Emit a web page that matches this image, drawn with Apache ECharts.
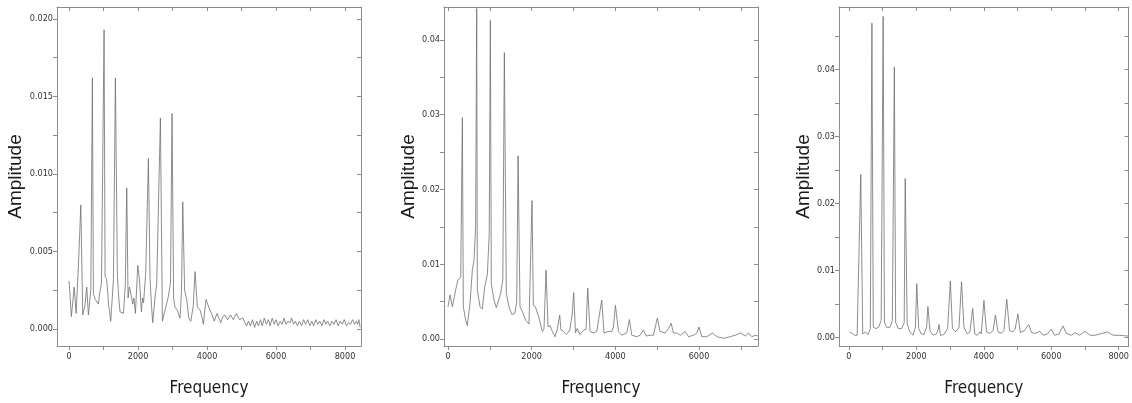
<!DOCTYPE html>
<html>
<head>
<meta charset="utf-8">
<script src="https://cdn.jsdelivr.net/npm/echarts@6/dist/echarts.min.js"></script>
<style>
  html, body { margin: 0; padding: 0; background: #fff; }
  #main { width: 1132px; height: 403px; }
</style>
</head>
<body>
<div id="main"></div>
<script>
// spectra: [frequency, amplitude]
const spec1 = [
  [0,0.0031],[67,0.0008],[148,0.0027],[204,0.0010],[270,0.0040],[340,0.0080],[397,0.0009],[460,0.0015],
  [513,0.0027],[560,0.0009],[630,0.0025],[676,0.0162],[705,0.0023],[760,0.0019],[802,0.0018],[850,0.0016],
  [880,0.0022],[940,0.0030],[1015,0.0193],[1044,0.0034],[1090,0.0032],[1150,0.0015],[1208,0.0005],[1286,0.0032],
  [1343,0.0162],[1401,0.0034],[1440,0.0020],[1479,0.0011],[1520,0.0012],[1576,0.0010],[1630,0.0028],[1672,0.0091],
  [1710,0.0020],[1750,0.0027],[1800,0.0022],[1846,0.0016],[1880,0.0020],[1924,0.0010],[1992,0.0041],[2040,0.0032],
  [2098,0.0011],[2130,0.0020],[2160,0.0017],[2222,0.0036],[2300,0.0110],[2348,0.0032],[2390,0.0015],[2425,0.0004],
  [2490,0.0020],[2541,0.0029],[2590,0.0030],[2648,0.0136],[2706,0.0005],[2780,0.0012],[2880,0.0021],[2940,0.0030],
  [2986,0.0139],[3030,0.0020],[3073,0.0014],[3140,0.0012],[3217,0.0007],[3260,0.0025],[3296,0.0082],[3350,0.0025],
  [3411,0.0019],[3470,0.0007],[3530,0.0005],[3600,0.0015],[3652,0.0037],[3720,0.0014],[3800,0.0012],[3850,0.0008],
  [3894,0.0003],[3971,0.0019],[4050,0.0014],[4130,0.0010],[4210,0.0005],[4290,0.0010],[4400,0.0004],[4460,0.0008],
  [4520,0.0009],[4600,0.0006],[4680,0.0009],[4760,0.0006],[4848,0.0010],[4940,0.0006],[5038,0.0007],
  [5100,0.0004],[5150,0.0002],[5200,0.0005],[5260,0.0002],[5320,0.0006],[5380,0.0001],[5440,0.0005],[5490,0.0002],
  [5550,0.0006],[5600,0.0002],[5660,0.0007],[5720,0.0003],[5780,0.0006],[5830,0.0002],[5890,0.0007],[5950,0.0003],
  [6000,0.0006],[6060,0.0002],[6120,0.0005],[6180,0.0003],[6230,0.0007],[6290,0.0003],[6350,0.0005],[6410,0.0004],
  [6450,0.0007],[6510,0.0003],[6560,0.0005],[6620,0.0002],[6680,0.0005],[6740,0.0002],[6800,0.0006],[6860,0.0003],
  [6920,0.0006],[6980,0.0002],[7040,0.0005],[7090,0.0002],[7150,0.0006],[7210,0.0003],[7270,0.0005],[7330,0.0002],
  [7390,0.0006],[7450,0.0003],[7500,0.0005],[7560,0.0002],[7620,0.0005],[7680,0.0003],[7740,0.0006],[7800,0.0002],
  [7860,0.0005],[7920,0.0003],[7980,0.0006],[8040,0.0002],[8100,0.0004],[8160,0.0003],[8220,0.0006],[8280,0.0003],
  [8330,0.0005],[8370,0.0003],[8400,0.0006],[8440,0.0001]
];

const spec2 = [
  [0,0.0043],[48,0.0059],[104,0.0043],[184,0.0066],[239,0.0079],[303,0.0083],[343,0.0296],[366,0.0043],
  [423,0.0025],[462,0.0018],[526,0.0048],[582,0.0092],[622,0.0106],[660,0.0150],[686,0.0442],[701,0.0066],
  [765,0.0043],[820,0.0040],[877,0.0070],[940,0.0086],[985,0.0140],[1012,0.0426],[1035,0.0074],[1100,0.0052],
  [1155,0.0042],[1200,0.0043],[1259,0.0061],[1310,0.0079],[1347,0.0383],[1394,0.0061],[1458,0.0043],[1522,0.0033],
  [1594,0.0034],[1642,0.0048],[1675,0.0245],[1721,0.0043],[1777,0.0037],[1857,0.0025],[1936,0.0020],[2008,0.0185],
  [2040,0.0045],[2088,0.0043],[2176,0.0028],[2255,0.0010],[2295,0.0014],[2344,0.0092],[2392,0.0016],[2440,0.0018],
  [2495,0.0010],[2557,0.0003],[2613,0.0013],[2670,0.0032],[2700,0.0012],[2768,0.0010],[2832,0.0006],[2912,0.0012],
  [2970,0.0034],[3005,0.0062],[3048,0.0008],[3088,0.0014],[3152,0.0006],[3248,0.0012],[3300,0.0013],[3340,0.0068],
  [3397,0.0010],[3476,0.0008],[3556,0.0010],[3596,0.0012],[3675,0.0052],[3731,0.0008],[3835,0.0010],[3915,0.0010],
  [3955,0.0016],[4002,0.0045],[4075,0.0010],[4154,0.0005],[4274,0.0008],[4337,0.0026],[4393,0.0005],[4513,0.0003],
  [4592,0.0005],[4672,0.0012],[4736,0.0004],[4832,0.0005],[4911,0.0005],[5005,0.0028],[5071,0.0010],[5191,0.0008],
  [5271,0.0014],[5335,0.0021],[5391,0.0008],[5471,0.0008],[5550,0.0005],[5670,0.0010],[5750,0.0003],[5869,0.0005],
  [5949,0.0008],[6000,0.0016],[6069,0.0003],[6189,0.0003],[6326,0.0008],[6428,0.0003],[6587,0.0001],[6746,0.0003],
  [6865,0.0005],[6995,0.0008],[7104,0.0004],[7184,0.0008],[7264,0.0003],[7343,0.0005],[7410,0.0004]
];

const spec3 = [
  [20,0.0008],[98,0.0006],[176,0.0003],[244,0.0003],[293,0.0004],[352,0.0243],[410,0.0005],[489,0.0008],
  [566,0.0004],[635,0.0013],[683,0.0469],[723,0.0015],[800,0.0013],[879,0.0015],[957,0.0025],[1016,0.0479],
  [1054,0.0022],[1122,0.0015],[1220,0.0015],[1289,0.0025],[1348,0.0403],[1386,0.0022],[1464,0.0013],[1562,0.0013],
  [1640,0.0022],[1670,0.0237],[1729,0.0020],[1807,0.0008],[1904,0.0003],[1973,0.0015],[2012,0.0080],[2070,0.0013],
  [2148,0.0005],[2226,0.0004],[2305,0.0015],[2343,0.0046],[2403,0.0010],[2500,0.0003],[2597,0.0005],[2650,0.0012],
  [2675,0.0019],[2714,0.0003],[2812,0.0004],[2929,0.0013],[3008,0.0084],[3070,0.0013],[3168,0.0008],[3265,0.0015],
  [3340,0.0083],[3412,0.0015],[3510,0.0005],[3588,0.0008],[3671,0.0043],[3730,0.0005],[3808,0.0003],[3886,0.0008],
  [3925,0.0005],[4005,0.0055],[4079,0.0008],[4177,0.0006],[4275,0.0010],[4345,0.0033],[4421,0.0008],[4519,0.0006],
  [4597,0.0010],[4680,0.0057],[4763,0.0010],[4861,0.0008],[4929,0.0012],[5010,0.0035],[5085,0.0007],[5203,0.0010],
  [5332,0.0019],[5417,0.0007],[5544,0.0006],[5663,0.0009],[5759,0.0003],[5885,0.0005],[5998,0.0012],[6100,0.0003],
  [6227,0.0005],[6349,0.0017],[6447,0.0006],[6593,0.0003],[6710,0.0007],[6837,0.0003],[7000,0.0009],[7153,0.0003],
  [7300,0.0003],[7446,0.0005],[7665,0.0008],[7837,0.0003],[8032,0.0003],[8227,0.0002],[8290,0.0002]
];

// tick labels
const xLabels1 = [0, 2000, 4000, 6000, 8000];
const xLabels2 = [0, 2000, 4000, 6000];
const xLabels3 = [0, 2000, 4000, 6000, 8000];
const yLabels1 = [0, 0.005, 0.010, 0.015, 0.020];
const yLabels2 = [0, 0.01, 0.02, 0.03, 0.04];
const yLabels3 = [0, 0.01, 0.02, 0.03, 0.04];

// minor ticks halfway between labels
function withHalves(arr, last) {
  const out = [];
  const step = arr[1] - arr[0];
  for (let i = 0; i < arr.length; i++) {
    out.push(arr[i]);
    if (arr[i] + step / 2 <= last) out.push(arr[i] + step / 2);
  }
  return out;
}

const panels = [
  { data: spec1, grid: { left: 57, top: 7, width: 304, height: 339 }, xMin: -350, xMax: 8464, yMin: -0.0011, yMax: 0.02077,
    xLab: xLabels1, yLab: yLabels1, xTicks: withHalves(xLabels1, 8464), yTicks: withHalves(yLabels1, 0.02077), dec: 3, yGap: 32 },
  { data: spec2, grid: { left: 444, top: 7, width: 314, height: 339 }, xMin: -96, xMax: 7411, yMin: -0.00094, yMax: 0.0444,
    xLab: xLabels2, yLab: yLabels2, xTicks: withHalves(xLabels2, 7411), yTicks: withHalves(yLabels2, 0.0444), dec: 2, yGap: 26 },
  { data: spec3, grid: { left: 839, top: 7, width: 292, height: 339 }, xMin: -293, xMax: 8293, yMin: -0.0013, yMax: 0.0493,
    xLab: xLabels3, yLab: yLabels3, xTicks: withHalves(xLabels3, 8293), yTicks: withHalves(yLabels3, 0.0493), dec: 2, yGap: 25 }
];

const axisColor = '#8c8c8c';
const narrow = '"Liberation Sans Narrow", "DejaVu Sans Condensed", sans-serif';

const chart = echarts.init(document.getElementById('main'), null, { renderer: 'canvas' });

const grid = [], xAxis = [], yAxis = [], series = [];
panels.forEach((p, i) => {
  grid.push(p.grid);
  // bottom axis with labels
  xAxis.push({
    type: 'value', gridIndex: i, min: p.xMin, max: p.xMax, position: 'bottom',
    name: 'Frequency', nameLocation: 'middle', nameGap: 34,
    nameTextStyle: { fontFamily: narrow, fontSize: 17, color: '#1a1a1a' },
    axisLine: { onZero: false, lineStyle: { color: axisColor, width: 1 } },
    axisTick: { show: true, length: 4, customValues: p.xTicks, lineStyle: { color: axisColor } },
    axisLabel: { customValues: p.xLab, margin: 6, fontFamily: narrow, fontSize: 9, color: '#333',
      formatter: v => String(v) },
    splitLine: { show: false }
  });
  // top mirror
  xAxis.push({
    type: 'value', gridIndex: i, min: p.xMin, max: p.xMax, position: 'top',
    axisLine: { onZero: false, lineStyle: { color: axisColor, width: 1 } },
    axisTick: { show: true, inside: true, length: 4, customValues: p.xTicks, lineStyle: { color: axisColor } },
    axisLabel: { show: false }, splitLine: { show: false }
  });
  yAxis.push({
    type: 'value', gridIndex: i, min: p.yMin, max: p.yMax, position: 'left',
    name: 'Amplitude', nameLocation: 'middle', nameGap: p.yGap, nameRotate: 90,
    nameTextStyle: { fontFamily: '"Liberation Sans", Arial, sans-serif', fontSize: 19, color: '#1a1a1a' },
    axisLine: { show: true, onZero: false, lineStyle: { color: axisColor, width: 1 } },
    axisTick: { show: true, length: 4, customValues: p.yTicks, lineStyle: { color: axisColor } },
    axisLabel: { customValues: p.yLab, margin: 4, fontFamily: narrow, fontSize: 9, color: '#333',
      formatter: v => v.toFixed(p.dec) },
    splitLine: { show: false }
  });
  yAxis.push({
    type: 'value', gridIndex: i, min: p.yMin, max: p.yMax, position: 'right',
    axisLine: { show: true, onZero: false, lineStyle: { color: axisColor, width: 1 } },
    axisTick: { show: true, inside: true, length: 4, customValues: p.yTicks, lineStyle: { color: axisColor } },
    axisLabel: { show: false }, splitLine: { show: false }
  });
  series.push({
    type: 'line', xAxisIndex: i * 2, yAxisIndex: i * 2, data: p.data,
    showSymbol: false, symbol: 'none', animation: false, clip: true,
    lineStyle: { color: '#707070', width: 0.8 }
  });
});

const option = { animation: false, grid, xAxis, yAxis, series };
chart.setOption(option);
</script>
</body>
</html>
